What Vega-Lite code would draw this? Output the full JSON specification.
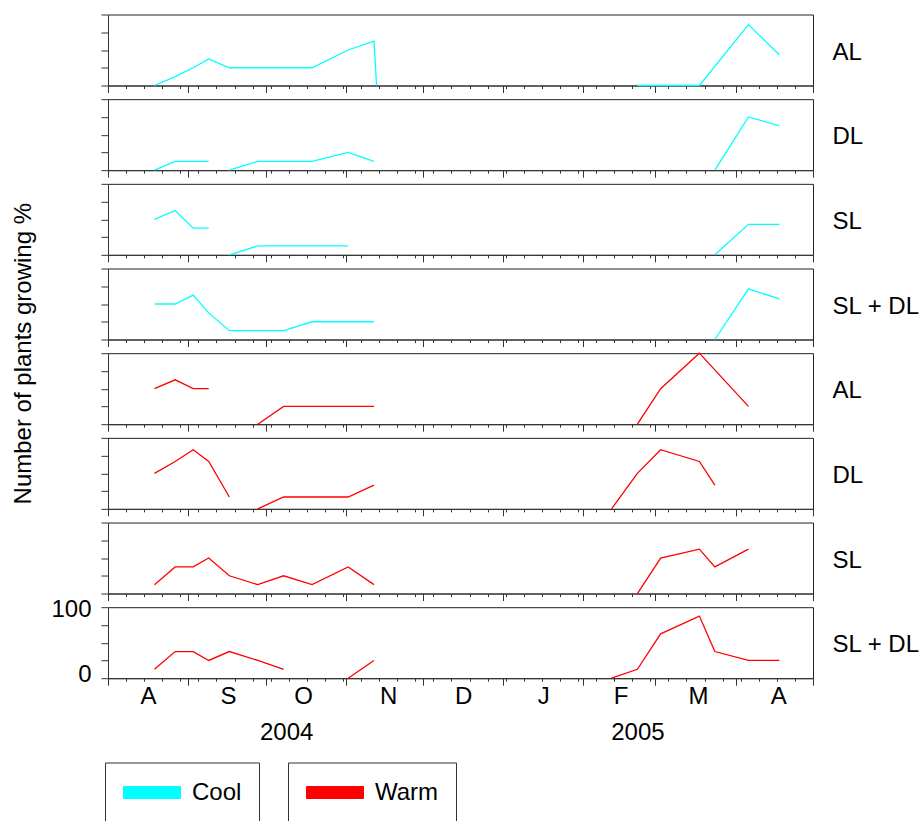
{
"$schema":"https://vega.github.io/schema/vega-lite/v6.json",
"padding":{"left":10,"top":13.5,"right":0,"bottom":0},
"spacing":13.67,
"bounds":"flush",
"data":{"values":[
{"temp":"Cool","trt":"AL","seg":1,"date":"2004-08-19","pct":0},
{"temp":"Cool","trt":"AL","seg":1,"date":"2004-08-27","pct":12.5},
{"temp":"Cool","trt":"AL","seg":1,"date":"2004-09-03","pct":25},
{"temp":"Cool","trt":"AL","seg":1,"date":"2004-09-09","pct":37.5},
{"temp":"Cool","trt":"AL","seg":1,"date":"2004-09-17","pct":25},
{"temp":"Cool","trt":"AL","seg":1,"date":"2004-09-28","pct":25},
{"temp":"Cool","trt":"AL","seg":1,"date":"2004-10-08","pct":25},
{"temp":"Cool","trt":"AL","seg":1,"date":"2004-10-19","pct":25},
{"temp":"Cool","trt":"AL","seg":1,"date":"2004-11-02","pct":50},
{"temp":"Cool","trt":"AL","seg":1,"date":"2004-11-12","pct":62.5},
{"temp":"Cool","trt":"AL","seg":1,"date":"2004-11-13","pct":0},
{"temp":"Cool","trt":"AL","seg":2,"date":"2005-02-22","pct":0},
{"temp":"Cool","trt":"AL","seg":2,"date":"2005-03-03","pct":0},
{"temp":"Cool","trt":"AL","seg":2,"date":"2005-03-18","pct":0},
{"temp":"Cool","trt":"AL","seg":2,"date":"2005-04-06","pct":85.7},
{"temp":"Cool","trt":"AL","seg":2,"date":"2005-04-18","pct":42.9},
{"temp":"Cool","trt":"DL","seg":1,"date":"2004-08-19","pct":0},
{"temp":"Cool","trt":"DL","seg":1,"date":"2004-08-27","pct":12.5},
{"temp":"Cool","trt":"DL","seg":1,"date":"2004-09-03","pct":12.5},
{"temp":"Cool","trt":"DL","seg":1,"date":"2004-09-09","pct":12.5},
{"temp":"Cool","trt":"DL","seg":2,"date":"2004-09-17","pct":0},
{"temp":"Cool","trt":"DL","seg":2,"date":"2004-09-28","pct":12.5},
{"temp":"Cool","trt":"DL","seg":2,"date":"2004-10-08","pct":12.5},
{"temp":"Cool","trt":"DL","seg":2,"date":"2004-10-19","pct":12.5},
{"temp":"Cool","trt":"DL","seg":2,"date":"2004-11-02","pct":25},
{"temp":"Cool","trt":"DL","seg":2,"date":"2004-11-12","pct":12.5},
{"temp":"Cool","trt":"DL","seg":3,"date":"2005-03-24","pct":0},
{"temp":"Cool","trt":"DL","seg":3,"date":"2005-04-06","pct":75},
{"temp":"Cool","trt":"DL","seg":3,"date":"2005-04-18","pct":62.5},
{"temp":"Cool","trt":"SL","seg":1,"date":"2004-08-19","pct":50},
{"temp":"Cool","trt":"SL","seg":1,"date":"2004-08-27","pct":62.5},
{"temp":"Cool","trt":"SL","seg":1,"date":"2004-09-03","pct":37.5},
{"temp":"Cool","trt":"SL","seg":1,"date":"2004-09-09","pct":37.5},
{"temp":"Cool","trt":"SL","seg":2,"date":"2004-09-17","pct":0},
{"temp":"Cool","trt":"SL","seg":2,"date":"2004-09-28","pct":12.5},
{"temp":"Cool","trt":"SL","seg":2,"date":"2004-10-08","pct":12.5},
{"temp":"Cool","trt":"SL","seg":2,"date":"2004-10-19","pct":12.5},
{"temp":"Cool","trt":"SL","seg":2,"date":"2004-11-02","pct":12.5},
{"temp":"Cool","trt":"SL","seg":3,"date":"2005-03-24","pct":0},
{"temp":"Cool","trt":"SL","seg":3,"date":"2005-04-06","pct":42.9},
{"temp":"Cool","trt":"SL","seg":3,"date":"2005-04-18","pct":42.9},
{"temp":"Cool","trt":"SL + DL","seg":1,"date":"2004-08-19","pct":50},
{"temp":"Cool","trt":"SL + DL","seg":1,"date":"2004-08-27","pct":50},
{"temp":"Cool","trt":"SL + DL","seg":1,"date":"2004-09-03","pct":62.5},
{"temp":"Cool","trt":"SL + DL","seg":1,"date":"2004-09-09","pct":37.5},
{"temp":"Cool","trt":"SL + DL","seg":1,"date":"2004-09-17","pct":12.5},
{"temp":"Cool","trt":"SL + DL","seg":1,"date":"2004-09-28","pct":12.5},
{"temp":"Cool","trt":"SL + DL","seg":1,"date":"2004-10-08","pct":12.5},
{"temp":"Cool","trt":"SL + DL","seg":1,"date":"2004-10-19","pct":25},
{"temp":"Cool","trt":"SL + DL","seg":1,"date":"2004-11-02","pct":25},
{"temp":"Cool","trt":"SL + DL","seg":1,"date":"2004-11-12","pct":25},
{"temp":"Cool","trt":"SL + DL","seg":2,"date":"2005-03-24","pct":0},
{"temp":"Cool","trt":"SL + DL","seg":2,"date":"2005-04-06","pct":71.4},
{"temp":"Cool","trt":"SL + DL","seg":2,"date":"2005-04-18","pct":57.1},
{"temp":"Warm","trt":"AL","seg":1,"date":"2004-08-19","pct":50},
{"temp":"Warm","trt":"AL","seg":1,"date":"2004-08-27","pct":62.5},
{"temp":"Warm","trt":"AL","seg":1,"date":"2004-09-03","pct":50},
{"temp":"Warm","trt":"AL","seg":1,"date":"2004-09-09","pct":50},
{"temp":"Warm","trt":"AL","seg":2,"date":"2004-09-28","pct":0},
{"temp":"Warm","trt":"AL","seg":2,"date":"2004-10-08","pct":25},
{"temp":"Warm","trt":"AL","seg":2,"date":"2004-10-19","pct":25},
{"temp":"Warm","trt":"AL","seg":2,"date":"2004-11-02","pct":25},
{"temp":"Warm","trt":"AL","seg":2,"date":"2004-11-12","pct":25},
{"temp":"Warm","trt":"AL","seg":3,"date":"2005-02-22","pct":0},
{"temp":"Warm","trt":"AL","seg":3,"date":"2005-03-03","pct":50},
{"temp":"Warm","trt":"AL","seg":3,"date":"2005-03-18","pct":100},
{"temp":"Warm","trt":"AL","seg":3,"date":"2005-04-06","pct":25},
{"temp":"Warm","trt":"DL","seg":1,"date":"2004-08-19","pct":50},
{"temp":"Warm","trt":"DL","seg":1,"date":"2004-08-27","pct":66.7},
{"temp":"Warm","trt":"DL","seg":1,"date":"2004-09-03","pct":83.3},
{"temp":"Warm","trt":"DL","seg":1,"date":"2004-09-09","pct":66.7},
{"temp":"Warm","trt":"DL","seg":1,"date":"2004-09-17","pct":16.7},
{"temp":"Warm","trt":"DL","seg":2,"date":"2004-09-28","pct":0},
{"temp":"Warm","trt":"DL","seg":2,"date":"2004-10-08","pct":16.7},
{"temp":"Warm","trt":"DL","seg":2,"date":"2004-10-19","pct":16.7},
{"temp":"Warm","trt":"DL","seg":2,"date":"2004-11-02","pct":16.7},
{"temp":"Warm","trt":"DL","seg":2,"date":"2004-11-12","pct":33.3},
{"temp":"Warm","trt":"DL","seg":3,"date":"2005-02-12","pct":0},
{"temp":"Warm","trt":"DL","seg":3,"date":"2005-02-22","pct":50},
{"temp":"Warm","trt":"DL","seg":3,"date":"2005-03-03","pct":83.3},
{"temp":"Warm","trt":"DL","seg":3,"date":"2005-03-18","pct":66.7},
{"temp":"Warm","trt":"DL","seg":3,"date":"2005-03-24","pct":33.3},
{"temp":"Warm","trt":"SL","seg":1,"date":"2004-08-19","pct":12.5},
{"temp":"Warm","trt":"SL","seg":1,"date":"2004-08-27","pct":37.5},
{"temp":"Warm","trt":"SL","seg":1,"date":"2004-09-03","pct":37.5},
{"temp":"Warm","trt":"SL","seg":1,"date":"2004-09-09","pct":50},
{"temp":"Warm","trt":"SL","seg":1,"date":"2004-09-17","pct":25},
{"temp":"Warm","trt":"SL","seg":1,"date":"2004-09-28","pct":12.5},
{"temp":"Warm","trt":"SL","seg":1,"date":"2004-10-08","pct":25},
{"temp":"Warm","trt":"SL","seg":1,"date":"2004-10-19","pct":12.5},
{"temp":"Warm","trt":"SL","seg":1,"date":"2004-11-02","pct":37.5},
{"temp":"Warm","trt":"SL","seg":1,"date":"2004-11-12","pct":12.5},
{"temp":"Warm","trt":"SL","seg":2,"date":"2005-02-22","pct":0},
{"temp":"Warm","trt":"SL","seg":2,"date":"2005-03-03","pct":50},
{"temp":"Warm","trt":"SL","seg":2,"date":"2005-03-18","pct":62.5},
{"temp":"Warm","trt":"SL","seg":2,"date":"2005-03-24","pct":37.5},
{"temp":"Warm","trt":"SL","seg":2,"date":"2005-04-06","pct":62.5},
{"temp":"Warm","trt":"SL + DL","seg":1,"date":"2004-08-19","pct":12.5},
{"temp":"Warm","trt":"SL + DL","seg":1,"date":"2004-08-27","pct":37.5},
{"temp":"Warm","trt":"SL + DL","seg":1,"date":"2004-09-03","pct":37.5},
{"temp":"Warm","trt":"SL + DL","seg":1,"date":"2004-09-09","pct":25},
{"temp":"Warm","trt":"SL + DL","seg":1,"date":"2004-09-17","pct":37.5},
{"temp":"Warm","trt":"SL + DL","seg":1,"date":"2004-09-28","pct":25},
{"temp":"Warm","trt":"SL + DL","seg":1,"date":"2004-10-08","pct":12.5},
{"temp":"Warm","trt":"SL + DL","seg":2,"date":"2004-11-02","pct":0},
{"temp":"Warm","trt":"SL + DL","seg":2,"date":"2004-11-12","pct":25},
{"temp":"Warm","trt":"SL + DL","seg":3,"date":"2005-02-12","pct":0},
{"temp":"Warm","trt":"SL + DL","seg":3,"date":"2005-02-22","pct":12.5},
{"temp":"Warm","trt":"SL + DL","seg":3,"date":"2005-03-03","pct":62.5},
{"temp":"Warm","trt":"SL + DL","seg":3,"date":"2005-03-18","pct":87.5},
{"temp":"Warm","trt":"SL + DL","seg":3,"date":"2005-03-24","pct":37.5},
{"temp":"Warm","trt":"SL + DL","seg":3,"date":"2005-04-06","pct":25},
{"temp":"Warm","trt":"SL + DL","seg":3,"date":"2005-04-18","pct":25}
]},
"vconcat":[
{"width":705,"height":71,
 "transform":[{"filter":"datum.temp=='Cool' && datum.trt=='AL'"}],
 "mark":{"type":"line","strokeWidth":1.3},
 "encoding":{
  "x":{"field":"date","type":"temporal","scale":{"type":"utc","domain":[{"year":2004,"month":8,"date":1,"utc":true},{"year":2005,"month":5,"date":1,"utc":true}]},
   "axis":{"labels":false,"title":"AL","tickSize":{"condition":{"test":"utcdate(datum.value)==1","value":7},"value":3},
    "values":[{"year":2004,"month":8,"date":1,"utc":true},{"year":2004,"month":8,"date":8,"utc":true},{"year":2004,"month":8,"date":15,"utc":true},{"year":2004,"month":8,"date":22,"utc":true},{"year":2004,"month":8,"date":29,"utc":true},{"year":2004,"month":9,"date":1,"utc":true},{"year":2004,"month":9,"date":5,"utc":true},{"year":2004,"month":9,"date":12,"utc":true},{"year":2004,"month":9,"date":19,"utc":true},{"year":2004,"month":9,"date":26,"utc":true},{"year":2004,"month":10,"date":1,"utc":true},{"year":2004,"month":10,"date":3,"utc":true},{"year":2004,"month":10,"date":10,"utc":true},{"year":2004,"month":10,"date":17,"utc":true},{"year":2004,"month":10,"date":24,"utc":true},{"year":2004,"month":10,"date":31,"utc":true},{"year":2004,"month":11,"date":1,"utc":true},{"year":2004,"month":11,"date":7,"utc":true},{"year":2004,"month":11,"date":14,"utc":true},{"year":2004,"month":11,"date":21,"utc":true},{"year":2004,"month":11,"date":28,"utc":true},{"year":2004,"month":12,"date":1,"utc":true},{"year":2004,"month":12,"date":5,"utc":true},{"year":2004,"month":12,"date":12,"utc":true},{"year":2004,"month":12,"date":19,"utc":true},{"year":2004,"month":12,"date":26,"utc":true},{"year":2005,"month":1,"date":1,"utc":true},{"year":2005,"month":1,"date":2,"utc":true},{"year":2005,"month":1,"date":9,"utc":true},{"year":2005,"month":1,"date":16,"utc":true},{"year":2005,"month":1,"date":23,"utc":true},{"year":2005,"month":1,"date":30,"utc":true},{"year":2005,"month":2,"date":1,"utc":true},{"year":2005,"month":2,"date":6,"utc":true},{"year":2005,"month":2,"date":13,"utc":true},{"year":2005,"month":2,"date":20,"utc":true},{"year":2005,"month":2,"date":27,"utc":true},{"year":2005,"month":3,"date":1,"utc":true},{"year":2005,"month":3,"date":6,"utc":true},{"year":2005,"month":3,"date":13,"utc":true},{"year":2005,"month":3,"date":20,"utc":true},{"year":2005,"month":3,"date":27,"utc":true},{"year":2005,"month":4,"date":1,"utc":true},{"year":2005,"month":4,"date":3,"utc":true},{"year":2005,"month":4,"date":10,"utc":true},{"year":2005,"month":4,"date":17,"utc":true},{"year":2005,"month":4,"date":24,"utc":true},{"year":2005,"month":5,"date":1,"utc":true}]}},
  "y":{"field":"pct","type":"quantitative","scale":{"domain":[0,100],"nice":false},"axis":{"values":[0,25,50,75,100],"labels":false,"title":null,"tickSize":7}},
  "detail":{"field":"seg","type":"nominal"},
  "stroke":{"field":"temp","type":"nominal","scale":{"domain":["Cool"],"range":["#00ffff"]},
   "legend":{"orient":"none","legendX":-3,"legendY":748,"title":null,"symbolType":"M-2.375,-0.5L2.375,-0.5L2.375,0.5L-2.375,0.5Z","symbolSize":576,"symbolOffset":17,"labelFontSize":24,"labelFont":"Liberation Sans","labelColor":"#000","labelOffset":27.5,"labelExpr":"datum.label + ' '","padding":17.5,"strokeColor":"#333","fillColor":"#fff","cornerRadius":0,
    "encode":{"symbols":{"update":{"fill":{"value":"#00ffff"},"stroke":{"value":"#333"},"strokeWidth":{"value":1},"opacity":{"value":1}}}}}}
 }},
{"width":705,"height":71,
 "transform":[{"filter":"datum.temp=='Cool' && datum.trt=='DL'"}],
 "mark":{"type":"line","strokeWidth":1.3},
 "encoding":{
  "x":{"field":"date","type":"temporal","scale":{"type":"utc","domain":[{"year":2004,"month":8,"date":1,"utc":true},{"year":2005,"month":5,"date":1,"utc":true}]},
   "axis":{"labels":false,"title":"DL","tickSize":{"condition":{"test":"utcdate(datum.value)==1","value":7},"value":3},
    "values":[{"year":2004,"month":8,"date":1,"utc":true},{"year":2004,"month":8,"date":8,"utc":true},{"year":2004,"month":8,"date":15,"utc":true},{"year":2004,"month":8,"date":22,"utc":true},{"year":2004,"month":8,"date":29,"utc":true},{"year":2004,"month":9,"date":1,"utc":true},{"year":2004,"month":9,"date":5,"utc":true},{"year":2004,"month":9,"date":12,"utc":true},{"year":2004,"month":9,"date":19,"utc":true},{"year":2004,"month":9,"date":26,"utc":true},{"year":2004,"month":10,"date":1,"utc":true},{"year":2004,"month":10,"date":3,"utc":true},{"year":2004,"month":10,"date":10,"utc":true},{"year":2004,"month":10,"date":17,"utc":true},{"year":2004,"month":10,"date":24,"utc":true},{"year":2004,"month":10,"date":31,"utc":true},{"year":2004,"month":11,"date":1,"utc":true},{"year":2004,"month":11,"date":7,"utc":true},{"year":2004,"month":11,"date":14,"utc":true},{"year":2004,"month":11,"date":21,"utc":true},{"year":2004,"month":11,"date":28,"utc":true},{"year":2004,"month":12,"date":1,"utc":true},{"year":2004,"month":12,"date":5,"utc":true},{"year":2004,"month":12,"date":12,"utc":true},{"year":2004,"month":12,"date":19,"utc":true},{"year":2004,"month":12,"date":26,"utc":true},{"year":2005,"month":1,"date":1,"utc":true},{"year":2005,"month":1,"date":2,"utc":true},{"year":2005,"month":1,"date":9,"utc":true},{"year":2005,"month":1,"date":16,"utc":true},{"year":2005,"month":1,"date":23,"utc":true},{"year":2005,"month":1,"date":30,"utc":true},{"year":2005,"month":2,"date":1,"utc":true},{"year":2005,"month":2,"date":6,"utc":true},{"year":2005,"month":2,"date":13,"utc":true},{"year":2005,"month":2,"date":20,"utc":true},{"year":2005,"month":2,"date":27,"utc":true},{"year":2005,"month":3,"date":1,"utc":true},{"year":2005,"month":3,"date":6,"utc":true},{"year":2005,"month":3,"date":13,"utc":true},{"year":2005,"month":3,"date":20,"utc":true},{"year":2005,"month":3,"date":27,"utc":true},{"year":2005,"month":4,"date":1,"utc":true},{"year":2005,"month":4,"date":3,"utc":true},{"year":2005,"month":4,"date":10,"utc":true},{"year":2005,"month":4,"date":17,"utc":true},{"year":2005,"month":4,"date":24,"utc":true},{"year":2005,"month":5,"date":1,"utc":true}]}},
  "y":{"field":"pct","type":"quantitative","scale":{"domain":[0,100],"nice":false},"axis":{"values":[0,25,50,75,100],"labels":false,"title":null,"tickSize":7}},
  "detail":{"field":"seg","type":"nominal"},
  "stroke":{"field":"temp","type":"nominal","scale":{"domain":["Cool"],"range":["#00ffff"]}}
 }},
{"width":705,"height":71,
 "transform":[{"filter":"datum.temp=='Cool' && datum.trt=='SL'"}],
 "mark":{"type":"line","strokeWidth":1.3},
 "encoding":{
  "x":{"field":"date","type":"temporal","scale":{"type":"utc","domain":[{"year":2004,"month":8,"date":1,"utc":true},{"year":2005,"month":5,"date":1,"utc":true}]},
   "axis":{"labels":false,"title":"SL","tickSize":{"condition":{"test":"utcdate(datum.value)==1","value":7},"value":3},
    "values":[{"year":2004,"month":8,"date":1,"utc":true},{"year":2004,"month":8,"date":8,"utc":true},{"year":2004,"month":8,"date":15,"utc":true},{"year":2004,"month":8,"date":22,"utc":true},{"year":2004,"month":8,"date":29,"utc":true},{"year":2004,"month":9,"date":1,"utc":true},{"year":2004,"month":9,"date":5,"utc":true},{"year":2004,"month":9,"date":12,"utc":true},{"year":2004,"month":9,"date":19,"utc":true},{"year":2004,"month":9,"date":26,"utc":true},{"year":2004,"month":10,"date":1,"utc":true},{"year":2004,"month":10,"date":3,"utc":true},{"year":2004,"month":10,"date":10,"utc":true},{"year":2004,"month":10,"date":17,"utc":true},{"year":2004,"month":10,"date":24,"utc":true},{"year":2004,"month":10,"date":31,"utc":true},{"year":2004,"month":11,"date":1,"utc":true},{"year":2004,"month":11,"date":7,"utc":true},{"year":2004,"month":11,"date":14,"utc":true},{"year":2004,"month":11,"date":21,"utc":true},{"year":2004,"month":11,"date":28,"utc":true},{"year":2004,"month":12,"date":1,"utc":true},{"year":2004,"month":12,"date":5,"utc":true},{"year":2004,"month":12,"date":12,"utc":true},{"year":2004,"month":12,"date":19,"utc":true},{"year":2004,"month":12,"date":26,"utc":true},{"year":2005,"month":1,"date":1,"utc":true},{"year":2005,"month":1,"date":2,"utc":true},{"year":2005,"month":1,"date":9,"utc":true},{"year":2005,"month":1,"date":16,"utc":true},{"year":2005,"month":1,"date":23,"utc":true},{"year":2005,"month":1,"date":30,"utc":true},{"year":2005,"month":2,"date":1,"utc":true},{"year":2005,"month":2,"date":6,"utc":true},{"year":2005,"month":2,"date":13,"utc":true},{"year":2005,"month":2,"date":20,"utc":true},{"year":2005,"month":2,"date":27,"utc":true},{"year":2005,"month":3,"date":1,"utc":true},{"year":2005,"month":3,"date":6,"utc":true},{"year":2005,"month":3,"date":13,"utc":true},{"year":2005,"month":3,"date":20,"utc":true},{"year":2005,"month":3,"date":27,"utc":true},{"year":2005,"month":4,"date":1,"utc":true},{"year":2005,"month":4,"date":3,"utc":true},{"year":2005,"month":4,"date":10,"utc":true},{"year":2005,"month":4,"date":17,"utc":true},{"year":2005,"month":4,"date":24,"utc":true},{"year":2005,"month":5,"date":1,"utc":true}]}},
  "y":{"field":"pct","type":"quantitative","scale":{"domain":[0,100],"nice":false},"axis":{"values":[0,25,50,75,100],"labels":false,"title":null,"tickSize":7}},
  "detail":{"field":"seg","type":"nominal"},
  "stroke":{"field":"temp","type":"nominal","scale":{"domain":["Cool"],"range":["#00ffff"]}}
 }},
{"width":705,"height":71,
 "transform":[{"filter":"datum.temp=='Cool' && datum.trt=='SL + DL'"}],
 "mark":{"type":"line","strokeWidth":1.3},
 "encoding":{
  "x":{"field":"date","type":"temporal","scale":{"type":"utc","domain":[{"year":2004,"month":8,"date":1,"utc":true},{"year":2005,"month":5,"date":1,"utc":true}]},
   "axis":{"labels":false,"title":"SL + DL","tickSize":{"condition":{"test":"utcdate(datum.value)==1","value":7},"value":3},
    "values":[{"year":2004,"month":8,"date":1,"utc":true},{"year":2004,"month":8,"date":8,"utc":true},{"year":2004,"month":8,"date":15,"utc":true},{"year":2004,"month":8,"date":22,"utc":true},{"year":2004,"month":8,"date":29,"utc":true},{"year":2004,"month":9,"date":1,"utc":true},{"year":2004,"month":9,"date":5,"utc":true},{"year":2004,"month":9,"date":12,"utc":true},{"year":2004,"month":9,"date":19,"utc":true},{"year":2004,"month":9,"date":26,"utc":true},{"year":2004,"month":10,"date":1,"utc":true},{"year":2004,"month":10,"date":3,"utc":true},{"year":2004,"month":10,"date":10,"utc":true},{"year":2004,"month":10,"date":17,"utc":true},{"year":2004,"month":10,"date":24,"utc":true},{"year":2004,"month":10,"date":31,"utc":true},{"year":2004,"month":11,"date":1,"utc":true},{"year":2004,"month":11,"date":7,"utc":true},{"year":2004,"month":11,"date":14,"utc":true},{"year":2004,"month":11,"date":21,"utc":true},{"year":2004,"month":11,"date":28,"utc":true},{"year":2004,"month":12,"date":1,"utc":true},{"year":2004,"month":12,"date":5,"utc":true},{"year":2004,"month":12,"date":12,"utc":true},{"year":2004,"month":12,"date":19,"utc":true},{"year":2004,"month":12,"date":26,"utc":true},{"year":2005,"month":1,"date":1,"utc":true},{"year":2005,"month":1,"date":2,"utc":true},{"year":2005,"month":1,"date":9,"utc":true},{"year":2005,"month":1,"date":16,"utc":true},{"year":2005,"month":1,"date":23,"utc":true},{"year":2005,"month":1,"date":30,"utc":true},{"year":2005,"month":2,"date":1,"utc":true},{"year":2005,"month":2,"date":6,"utc":true},{"year":2005,"month":2,"date":13,"utc":true},{"year":2005,"month":2,"date":20,"utc":true},{"year":2005,"month":2,"date":27,"utc":true},{"year":2005,"month":3,"date":1,"utc":true},{"year":2005,"month":3,"date":6,"utc":true},{"year":2005,"month":3,"date":13,"utc":true},{"year":2005,"month":3,"date":20,"utc":true},{"year":2005,"month":3,"date":27,"utc":true},{"year":2005,"month":4,"date":1,"utc":true},{"year":2005,"month":4,"date":3,"utc":true},{"year":2005,"month":4,"date":10,"utc":true},{"year":2005,"month":4,"date":17,"utc":true},{"year":2005,"month":4,"date":24,"utc":true},{"year":2005,"month":5,"date":1,"utc":true}]}},
  "y":{"field":"pct","type":"quantitative","scale":{"domain":[0,100],"nice":false},"axis":{"values":[0,25,50,75,100],"labels":false,"title":null,"tickSize":7}},
  "detail":{"field":"seg","type":"nominal"},
  "stroke":{"field":"temp","type":"nominal","scale":{"domain":["Cool"],"range":["#00ffff"]}}
 }},
{"width":705,"height":71,
 "transform":[{"filter":"datum.temp=='Warm' && datum.trt=='AL'"}],
 "mark":{"type":"line","strokeWidth":1.3},
 "encoding":{
  "x":{"field":"date","type":"temporal","scale":{"type":"utc","domain":[{"year":2004,"month":8,"date":1,"utc":true},{"year":2005,"month":5,"date":1,"utc":true}]},
   "axis":{"labels":false,"title":"AL","tickSize":{"condition":{"test":"utcdate(datum.value)==1","value":7},"value":3},
    "values":[{"year":2004,"month":8,"date":1,"utc":true},{"year":2004,"month":8,"date":8,"utc":true},{"year":2004,"month":8,"date":15,"utc":true},{"year":2004,"month":8,"date":22,"utc":true},{"year":2004,"month":8,"date":29,"utc":true},{"year":2004,"month":9,"date":1,"utc":true},{"year":2004,"month":9,"date":5,"utc":true},{"year":2004,"month":9,"date":12,"utc":true},{"year":2004,"month":9,"date":19,"utc":true},{"year":2004,"month":9,"date":26,"utc":true},{"year":2004,"month":10,"date":1,"utc":true},{"year":2004,"month":10,"date":3,"utc":true},{"year":2004,"month":10,"date":10,"utc":true},{"year":2004,"month":10,"date":17,"utc":true},{"year":2004,"month":10,"date":24,"utc":true},{"year":2004,"month":10,"date":31,"utc":true},{"year":2004,"month":11,"date":1,"utc":true},{"year":2004,"month":11,"date":7,"utc":true},{"year":2004,"month":11,"date":14,"utc":true},{"year":2004,"month":11,"date":21,"utc":true},{"year":2004,"month":11,"date":28,"utc":true},{"year":2004,"month":12,"date":1,"utc":true},{"year":2004,"month":12,"date":5,"utc":true},{"year":2004,"month":12,"date":12,"utc":true},{"year":2004,"month":12,"date":19,"utc":true},{"year":2004,"month":12,"date":26,"utc":true},{"year":2005,"month":1,"date":1,"utc":true},{"year":2005,"month":1,"date":2,"utc":true},{"year":2005,"month":1,"date":9,"utc":true},{"year":2005,"month":1,"date":16,"utc":true},{"year":2005,"month":1,"date":23,"utc":true},{"year":2005,"month":1,"date":30,"utc":true},{"year":2005,"month":2,"date":1,"utc":true},{"year":2005,"month":2,"date":6,"utc":true},{"year":2005,"month":2,"date":13,"utc":true},{"year":2005,"month":2,"date":20,"utc":true},{"year":2005,"month":2,"date":27,"utc":true},{"year":2005,"month":3,"date":1,"utc":true},{"year":2005,"month":3,"date":6,"utc":true},{"year":2005,"month":3,"date":13,"utc":true},{"year":2005,"month":3,"date":20,"utc":true},{"year":2005,"month":3,"date":27,"utc":true},{"year":2005,"month":4,"date":1,"utc":true},{"year":2005,"month":4,"date":3,"utc":true},{"year":2005,"month":4,"date":10,"utc":true},{"year":2005,"month":4,"date":17,"utc":true},{"year":2005,"month":4,"date":24,"utc":true},{"year":2005,"month":5,"date":1,"utc":true}]}},
  "y":{"field":"pct","type":"quantitative","scale":{"domain":[0,100],"nice":false},"axis":{"values":[0,25,50,75,100],"labels":false,"tickSize":7,"title":"Number of plants growing %","titleX":-77.5,"titleY":0,"titleAngle":270,"titleAlign":"center","titleBaseline":"alphabetic"}},
  "detail":{"field":"seg","type":"nominal"},
  "color":{"field":"temp","type":"nominal","scale":{"domain":["Warm"],"range":["#ff0000"]},
   "legend":{"orient":"none","legendX":180,"legendY":748,"title":null,"symbolType":"M-2.375,-0.5L2.375,-0.5L2.375,0.5L-2.375,0.5Z","symbolSize":576,"symbolOffset":17,"labelFontSize":24,"labelFont":"Liberation Sans","labelColor":"#000","labelOffset":27.5,"labelExpr":"datum.label + '  '","padding":17.5,"strokeColor":"#333","fillColor":"#fff","cornerRadius":0,
    "encode":{"symbols":{"update":{"fill":{"value":"#ff0000"},"stroke":{"value":"#333"},"strokeWidth":{"value":1},"opacity":{"value":1}}}}}}
 }},
{"width":705,"height":71,
 "transform":[{"filter":"datum.temp=='Warm' && datum.trt=='DL'"}],
 "mark":{"type":"line","strokeWidth":1.3},
 "encoding":{
  "x":{"field":"date","type":"temporal","scale":{"type":"utc","domain":[{"year":2004,"month":8,"date":1,"utc":true},{"year":2005,"month":5,"date":1,"utc":true}]},
   "axis":{"labels":false,"title":"DL","tickSize":{"condition":{"test":"utcdate(datum.value)==1","value":7},"value":3},
    "values":[{"year":2004,"month":8,"date":1,"utc":true},{"year":2004,"month":8,"date":8,"utc":true},{"year":2004,"month":8,"date":15,"utc":true},{"year":2004,"month":8,"date":22,"utc":true},{"year":2004,"month":8,"date":29,"utc":true},{"year":2004,"month":9,"date":1,"utc":true},{"year":2004,"month":9,"date":5,"utc":true},{"year":2004,"month":9,"date":12,"utc":true},{"year":2004,"month":9,"date":19,"utc":true},{"year":2004,"month":9,"date":26,"utc":true},{"year":2004,"month":10,"date":1,"utc":true},{"year":2004,"month":10,"date":3,"utc":true},{"year":2004,"month":10,"date":10,"utc":true},{"year":2004,"month":10,"date":17,"utc":true},{"year":2004,"month":10,"date":24,"utc":true},{"year":2004,"month":10,"date":31,"utc":true},{"year":2004,"month":11,"date":1,"utc":true},{"year":2004,"month":11,"date":7,"utc":true},{"year":2004,"month":11,"date":14,"utc":true},{"year":2004,"month":11,"date":21,"utc":true},{"year":2004,"month":11,"date":28,"utc":true},{"year":2004,"month":12,"date":1,"utc":true},{"year":2004,"month":12,"date":5,"utc":true},{"year":2004,"month":12,"date":12,"utc":true},{"year":2004,"month":12,"date":19,"utc":true},{"year":2004,"month":12,"date":26,"utc":true},{"year":2005,"month":1,"date":1,"utc":true},{"year":2005,"month":1,"date":2,"utc":true},{"year":2005,"month":1,"date":9,"utc":true},{"year":2005,"month":1,"date":16,"utc":true},{"year":2005,"month":1,"date":23,"utc":true},{"year":2005,"month":1,"date":30,"utc":true},{"year":2005,"month":2,"date":1,"utc":true},{"year":2005,"month":2,"date":6,"utc":true},{"year":2005,"month":2,"date":13,"utc":true},{"year":2005,"month":2,"date":20,"utc":true},{"year":2005,"month":2,"date":27,"utc":true},{"year":2005,"month":3,"date":1,"utc":true},{"year":2005,"month":3,"date":6,"utc":true},{"year":2005,"month":3,"date":13,"utc":true},{"year":2005,"month":3,"date":20,"utc":true},{"year":2005,"month":3,"date":27,"utc":true},{"year":2005,"month":4,"date":1,"utc":true},{"year":2005,"month":4,"date":3,"utc":true},{"year":2005,"month":4,"date":10,"utc":true},{"year":2005,"month":4,"date":17,"utc":true},{"year":2005,"month":4,"date":24,"utc":true},{"year":2005,"month":5,"date":1,"utc":true}]}},
  "y":{"field":"pct","type":"quantitative","scale":{"domain":[0,100],"nice":false},"axis":{"values":[0,25,50,75,100],"labels":false,"title":null,"tickSize":7}},
  "detail":{"field":"seg","type":"nominal"},
  "color":{"field":"temp","type":"nominal","scale":{"domain":["Warm"],"range":["#ff0000"]}}
 }},
{"width":705,"height":71,
 "transform":[{"filter":"datum.temp=='Warm' && datum.trt=='SL'"}],
 "mark":{"type":"line","strokeWidth":1.3},
 "encoding":{
  "x":{"field":"date","type":"temporal","scale":{"type":"utc","domain":[{"year":2004,"month":8,"date":1,"utc":true},{"year":2005,"month":5,"date":1,"utc":true}]},
   "axis":{"labels":false,"title":"SL","tickSize":{"condition":{"test":"utcdate(datum.value)==1","value":7},"value":3},
    "values":[{"year":2004,"month":8,"date":1,"utc":true},{"year":2004,"month":8,"date":8,"utc":true},{"year":2004,"month":8,"date":15,"utc":true},{"year":2004,"month":8,"date":22,"utc":true},{"year":2004,"month":8,"date":29,"utc":true},{"year":2004,"month":9,"date":1,"utc":true},{"year":2004,"month":9,"date":5,"utc":true},{"year":2004,"month":9,"date":12,"utc":true},{"year":2004,"month":9,"date":19,"utc":true},{"year":2004,"month":9,"date":26,"utc":true},{"year":2004,"month":10,"date":1,"utc":true},{"year":2004,"month":10,"date":3,"utc":true},{"year":2004,"month":10,"date":10,"utc":true},{"year":2004,"month":10,"date":17,"utc":true},{"year":2004,"month":10,"date":24,"utc":true},{"year":2004,"month":10,"date":31,"utc":true},{"year":2004,"month":11,"date":1,"utc":true},{"year":2004,"month":11,"date":7,"utc":true},{"year":2004,"month":11,"date":14,"utc":true},{"year":2004,"month":11,"date":21,"utc":true},{"year":2004,"month":11,"date":28,"utc":true},{"year":2004,"month":12,"date":1,"utc":true},{"year":2004,"month":12,"date":5,"utc":true},{"year":2004,"month":12,"date":12,"utc":true},{"year":2004,"month":12,"date":19,"utc":true},{"year":2004,"month":12,"date":26,"utc":true},{"year":2005,"month":1,"date":1,"utc":true},{"year":2005,"month":1,"date":2,"utc":true},{"year":2005,"month":1,"date":9,"utc":true},{"year":2005,"month":1,"date":16,"utc":true},{"year":2005,"month":1,"date":23,"utc":true},{"year":2005,"month":1,"date":30,"utc":true},{"year":2005,"month":2,"date":1,"utc":true},{"year":2005,"month":2,"date":6,"utc":true},{"year":2005,"month":2,"date":13,"utc":true},{"year":2005,"month":2,"date":20,"utc":true},{"year":2005,"month":2,"date":27,"utc":true},{"year":2005,"month":3,"date":1,"utc":true},{"year":2005,"month":3,"date":6,"utc":true},{"year":2005,"month":3,"date":13,"utc":true},{"year":2005,"month":3,"date":20,"utc":true},{"year":2005,"month":3,"date":27,"utc":true},{"year":2005,"month":4,"date":1,"utc":true},{"year":2005,"month":4,"date":3,"utc":true},{"year":2005,"month":4,"date":10,"utc":true},{"year":2005,"month":4,"date":17,"utc":true},{"year":2005,"month":4,"date":24,"utc":true},{"year":2005,"month":5,"date":1,"utc":true}]}},
  "y":{"field":"pct","type":"quantitative","scale":{"domain":[0,100],"nice":false},"axis":{"values":[0,25,50,75,100],"labels":false,"title":null,"tickSize":7}},
  "detail":{"field":"seg","type":"nominal"},
  "color":{"field":"temp","type":"nominal","scale":{"domain":["Warm"],"range":["#ff0000"]}}
 }},
{"width":705,"height":71,
 "transform":[{"filter":"datum.temp=='Warm' && datum.trt=='SL + DL'"}],
 "layer":[
 {"mark":{"type":"line","strokeWidth":1.3},
 "encoding":{
  "x":{"field":"date","type":"temporal","scale":{"type":"utc","domain":[{"year":2004,"month":8,"date":1,"utc":true},{"year":2005,"month":5,"date":1,"utc":true}]},
   "axis":{"orient":"bottom","title":"SL + DL","labelPadding":3,"labelAlign":"center","labelExpr":"utchours(datum.value)==12 ? substring(utcFormat(datum.value,'%b'),0,1) : ''",
    "tickSize":{"condition":{"test":"utcdate(datum.value)==1","value":7},"value":3},
    "tickOpacity":{"condition":{"test":"utchours(datum.value)==12","value":0},"value":1},
    "values":[{"year":2004,"month":8,"date":1,"utc":true},{"year":2004,"month":8,"date":8,"utc":true},{"year":2004,"month":8,"date":15,"utc":true},{"year":2004,"month":8,"date":22,"utc":true},{"year":2004,"month":8,"date":29,"utc":true},{"year":2004,"month":9,"date":1,"utc":true},{"year":2004,"month":9,"date":5,"utc":true},{"year":2004,"month":9,"date":12,"utc":true},{"year":2004,"month":9,"date":19,"utc":true},{"year":2004,"month":9,"date":26,"utc":true},{"year":2004,"month":10,"date":1,"utc":true},{"year":2004,"month":10,"date":3,"utc":true},{"year":2004,"month":10,"date":10,"utc":true},{"year":2004,"month":10,"date":17,"utc":true},{"year":2004,"month":10,"date":24,"utc":true},{"year":2004,"month":10,"date":31,"utc":true},{"year":2004,"month":11,"date":1,"utc":true},{"year":2004,"month":11,"date":7,"utc":true},{"year":2004,"month":11,"date":14,"utc":true},{"year":2004,"month":11,"date":21,"utc":true},{"year":2004,"month":11,"date":28,"utc":true},{"year":2004,"month":12,"date":1,"utc":true},{"year":2004,"month":12,"date":5,"utc":true},{"year":2004,"month":12,"date":12,"utc":true},{"year":2004,"month":12,"date":19,"utc":true},{"year":2004,"month":12,"date":26,"utc":true},{"year":2005,"month":1,"date":1,"utc":true},{"year":2005,"month":1,"date":2,"utc":true},{"year":2005,"month":1,"date":9,"utc":true},{"year":2005,"month":1,"date":16,"utc":true},{"year":2005,"month":1,"date":23,"utc":true},{"year":2005,"month":1,"date":30,"utc":true},{"year":2005,"month":2,"date":1,"utc":true},{"year":2005,"month":2,"date":6,"utc":true},{"year":2005,"month":2,"date":13,"utc":true},{"year":2005,"month":2,"date":20,"utc":true},{"year":2005,"month":2,"date":27,"utc":true},{"year":2005,"month":3,"date":1,"utc":true},{"year":2005,"month":3,"date":6,"utc":true},{"year":2005,"month":3,"date":13,"utc":true},{"year":2005,"month":3,"date":20,"utc":true},{"year":2005,"month":3,"date":27,"utc":true},{"year":2005,"month":4,"date":1,"utc":true},{"year":2005,"month":4,"date":3,"utc":true},{"year":2005,"month":4,"date":10,"utc":true},{"year":2005,"month":4,"date":17,"utc":true},{"year":2005,"month":4,"date":24,"utc":true},{"year":2005,"month":5,"date":1,"utc":true},
     {"year":2004,"month":8,"date":16,"hours":12,"utc":true},{"year":2004,"month":9,"date":16,"hours":12,"utc":true},{"year":2004,"month":10,"date":15,"hours":12,"utc":true},{"year":2004,"month":11,"date":17,"hours":12,"utc":true},{"year":2004,"month":12,"date":16,"hours":12,"utc":true},{"year":2005,"month":1,"date":16,"hours":12,"utc":true},{"year":2005,"month":2,"date":15,"hours":12,"utc":true},{"year":2005,"month":3,"date":17,"hours":12,"utc":true},{"year":2005,"month":4,"date":17,"hours":12,"utc":true}]}},
  "y":{"field":"pct","type":"quantitative","scale":{"domain":[0,100],"nice":false},"axis":{"values":[0,25,50,75,100],"title":null,"tickSize":7,"labelPadding":10,"labelExpr":"datum.value==0 || datum.value==100 ? datum.label : ''","labelOffset":{"condition":{"test":"datum.value==0","value":-4},"value":2}}},
  "detail":{"field":"seg","type":"nominal"},
  "color":{"field":"temp","type":"nominal","scale":{"domain":["Warm"],"range":["#ff0000"]}}
 }},
 {"mark":{"type":"rule","opacity":0},
  "encoding":{
   "x":{"field":"date","type":"temporal","scale":{"type":"utc","domain":[{"year":2004,"month":8,"date":1,"utc":true},{"year":2005,"month":5,"date":1,"utc":true}]},
    "axis":{"orient":"bottom","title":null,"domain":false,"ticks":false,"labelPadding":42,"labelAlign":"center","labelExpr":"utcFormat(datum.value,'%Y')",
     "values":[{"year":2004,"month":10,"date":9,"utc":true},{"year":2005,"month":2,"date":22,"utc":true}]}}
  }}
 ],
 "resolve":{"scale":{"x":"independent"}}
}
],
"config":{
 "font":"Liberation Sans",
 "view":{"stroke":"#222","strokeWidth":1},
 "axis":{"grid":false,"domainColor":"#333","tickColor":"#333","labelFont":"Liberation Sans","labelFontSize":24,"labelColor":"#000","titleFont":"Liberation Sans","titleFontSize":24,"titleFontWeight":"normal","titleColor":"#000"},
 "axisX":{"titleX":724,"titleY":-33.5,"titleAngle":0,"titleAlign":"left","titleBaseline":"middle"}
}
}
